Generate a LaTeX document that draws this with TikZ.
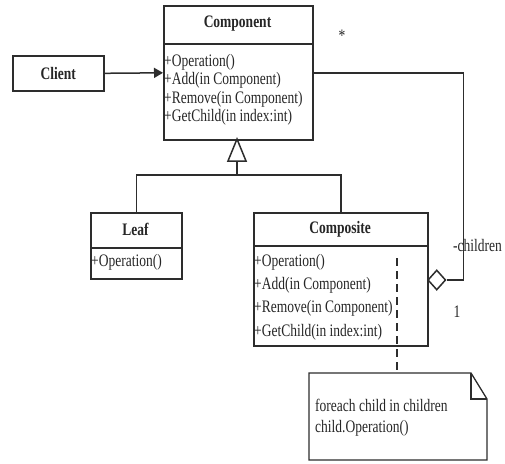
\documentclass[tikz,border=0pt]{standalone}
\usepackage{graphicx}
\usepackage{fontspec}
\setmainfont{Liberation Serif}
\usetikzlibrary{shapes.geometric,arrows.meta}
\definecolor{ink}{RGB}{45,45,45}
% narrow, tall lettering used throughout the diagram
\newcommand{\tall}[1]{\scalebox{1}[1.3]{#1}}
\begin{document}
\begin{tikzpicture}[x=1pt,y=-1pt,
  every node/.style={font=\fontsize{13.5}{16}\selectfont, text=black!85},
  classbox/.style={draw=ink, line width=1.6pt, rectangle, inner sep=0pt, anchor=north west},
  sepline/.style={draw=ink, line width=1.8pt},
  title/.style={font=\fontsize{13.5}{16}\selectfont\bfseries, inner sep=0pt},
  member/.style={anchor=west, inner sep=0pt},
  link/.style={draw=ink, line width=1.5pt},
  memo/.style={draw=ink, line width=1.3pt}]
\useasboundingbox (0,0) rectangle (505,463);

% Component class
\node[classbox, minimum width=149pt, minimum height=134pt] (comp) at (163,5) {};
\draw[sepline] (163,44) -- (312,44);
\node[title] (compT) at (237.5,24) {\tall{Component}};
\node[member] (c1) at (164,62) {\tall{+Operation()}};
\node[member] (c2) at (164,80.5) {\tall{+Add(in Component)}};
\node[member] (c3) at (164,99) {\tall{+Remove(in Component)}};
\node[member] (c4) at (164,117.5) {\tall{+GetChild(in index:int)}};

% Client
\node[classbox, minimum width=91pt, minimum height=35pt] (client) at (12,55) {};
\node[title] (clientT) at (client.center) {\tall{Client}};
\draw[link, -{Triangle[length=9pt,width=10pt]}] (client.east) -- (comp.west);

% Leaf class
\node[classbox, minimum width=91pt, minimum height=66pt] (leaf) at (90,212) {};
\draw[sepline] (90,248) -- (181,248);
\node[title] (leafT) at (135.5,229.5) {\tall{Leaf}};
\node[member] (l1) at (91,262) {\tall{+Operation()}};

% Composite class
\node[classbox, minimum width=174pt, minimum height=133pt] (compo) at (253,212) {};
\draw[sepline] (253,246) -- (427,246);
\node[title] (compoT) at (340,229.5) {\tall{Composite}};
\node[member] (k1) at (254,262) {\tall{+Operation()}};
\node[member] (k2) at (254,285) {\tall{+Add(in Component)}};
\node[member] (k3) at (254,308.5) {\tall{+Remove(in Component)}};
\node[member] (k4) at (254,332) {\tall{+GetChild(in index:int)}};

% Generalization
\coordinate (gtip) at (237,139);
\coordinate (gjoin) at (237,175);
\draw[link, fill=white] (gtip) -- (246,161) -- (228,161) -- cycle;
\draw[link] (237,161) -- (gjoin);
\draw[link] (leaf.north) |- (gjoin) -| (compo.north);

% Aggregation
\node[diamond, draw=ink, line width=1.5pt, fill=white, inner sep=0pt,
      minimum width=18pt, minimum height=20pt, anchor=west] (agg) at (427,280) {};
\draw[link] (agg.east) -- ++(17,0) |- (comp.east);
\node[inner sep=0pt] (star) at (342,36) {\tall{*}};
\node[anchor=west, inner sep=0pt] (role) at (453,245) {\tall{-children}};
\node[inner sep=0pt] (one) at (457,312) {\tall{1}};

% Note
\node[minimum width=178pt, minimum height=87pt, inner sep=0pt, anchor=north west] (note) at (309,373) {};
\draw[memo] (309,373) -- (471,373) -- (487,399) -- (487,460) -- (309,460) -- cycle;
\draw[memo] (471,373) -- (471,399) -- (487,399);
\node[member] (n1) at (315,405) {\tall{foreach child in children}};
\node[member] (n2) at (315,428) {\tall{child.Operation()}};
\coordinate (dstart) at (397,258);
\draw[link, line width=1.3pt, dash pattern=on 8pt off 5pt] (dstart) -- (dstart |- note.north);
\end{tikzpicture}
\end{document}
